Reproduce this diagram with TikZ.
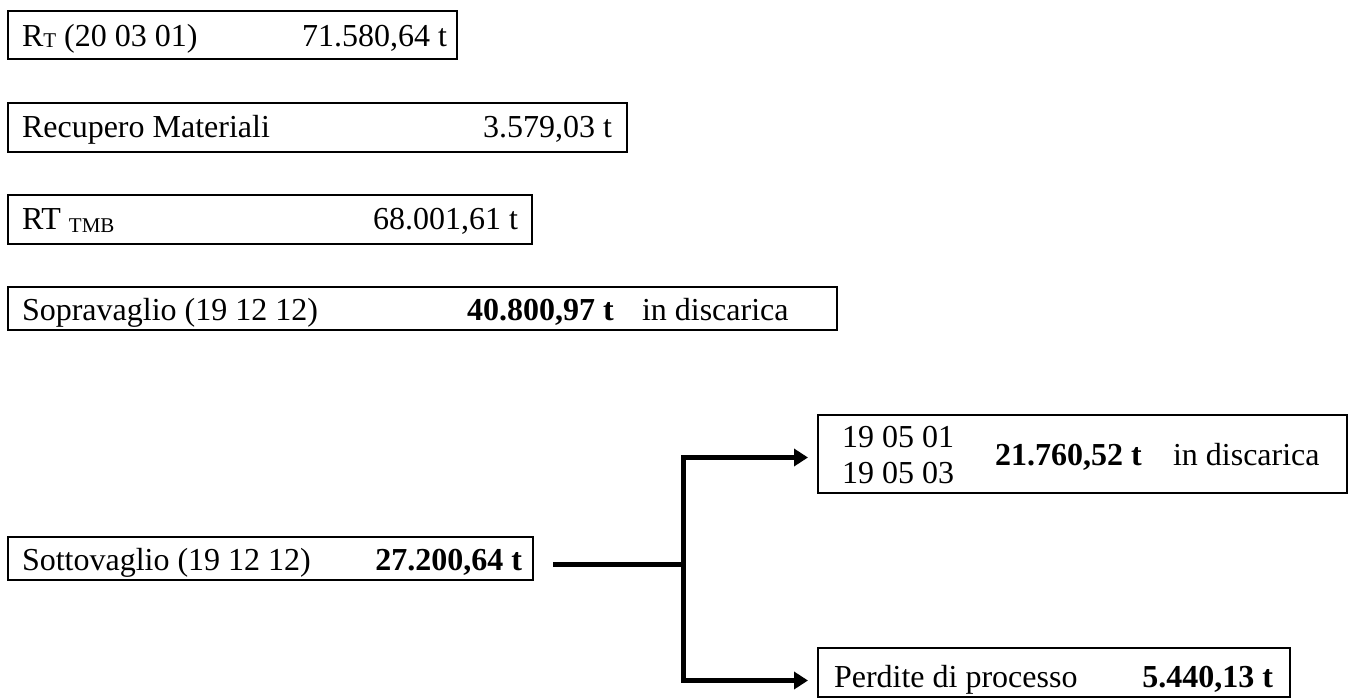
\documentclass[tikz,border=0pt]{standalone}
\usepackage{fontspec}
\setmainfont{Liberation Serif}
\usetikzlibrary{arrows.meta}

\tikzset{
  box/.style={draw, line width=2.6pt, inner sep=0pt, outer sep=0pt, fill=white},
  txt/.style={anchor=base west, inner sep=0pt, outer sep=0pt},
  txte/.style={anchor=base east, inner sep=0pt, outer sep=0pt},
  flow/.style={line width=5pt, line join=miter},
  flowarrow/.style={flow, -{Triangle[length=14pt,width=17pt]}}
}

\newcommand{\subsm}[2]{\raisebox{-#2pt}{\fontsize{21}{21}\selectfont #1}}

\begin{document}
\begin{tikzpicture}[x=1pt, y=-1pt, font=\fontsize{32}{38}\selectfont]
  \useasboundingbox (0,0) rectangle (1351,700);

  % boxes
  \node[box, minimum width=449pt, minimum height=48pt] (rt)    at (232.5,35)   {};
  \node[box, minimum width=619pt, minimum height=49pt] (rec)   at (317.5,127.5) {};
  \node[box, minimum width=524pt, minimum height=49pt] (tmb)   at (270,219.5)  {};
  \node[box, minimum width=829pt, minimum height=43pt] (sopra) at (422.5,308.5) {};
  \node[box, minimum width=525pt, minimum height=43pt] (sotto) at (270.5,558.5) {};
  \node[box, minimum width=529pt, minimum height=78pt] (disc)  at (1082.5,454)  {};
  \node[box, minimum width=472pt, minimum height=49pt] (perd)  at (1054,672.5)  {};

  % box texts
  \node[txt]  (rtl)    at (22,47)  {R\subsm{T}{1} (20 03 01)};
  \node[txte] (rtv)    at (447,47) {71.580,64 t};
  \node[txt]  (recl)   at (22,138) {Recupero Materiali};
  \node[txte] (recv)   at (612,138) {3.579,03 t};
  \node[txt]  (tmbl)   at (22,230) {RT \subsm{TMB}{3}};
  \node[txte] (tmbv)   at (518,230) {68.001,61 t};
  \node[txt]  (soprl)  at (22,320) {Sopravaglio (19 12 12)};
  \node[txt]  (soprv)  at (467,320) {\textbf{40.800,97 t}};
  \node[txt]  (soprd)  at (642,320) {in discarica};
  \node[txt]  (sottl)  at (22,570) {Sottovaglio (19 12 12)};
  \node[txte] (sottv)  at (522,570) {\textbf{27.200,64 t}};
  \node[txt]  (code1)  at (842,447) {19 05 01};
  \node[txt]  (code2)  at (842,483) {19 05 03};
  \node[txt]  (discv)  at (995,465) {\textbf{21.760,52 t}};
  \node[txt]  (discd)  at (1173,465) {in discarica};
  \node[txt]  (perdl)  at (834,687) {Perdite di processo};
  \node[txte] (perdv)  at (1273,687) {\textbf{5.440,13 t}};

  % split of the undersieve flow
  \coordinate (stem) at (553,564.5);
  \coordinate (fork) at (683,564.5);
  \coordinate (toDisc) at (808,457.5);
  \coordinate (toPerd) at (808,680.5);
  \draw[flow] (stem) -- (fork);
  \draw[flowarrow] (fork) |- (toDisc);
  \draw[flowarrow] (fork) |- (toPerd);
\end{tikzpicture}
\end{document}
